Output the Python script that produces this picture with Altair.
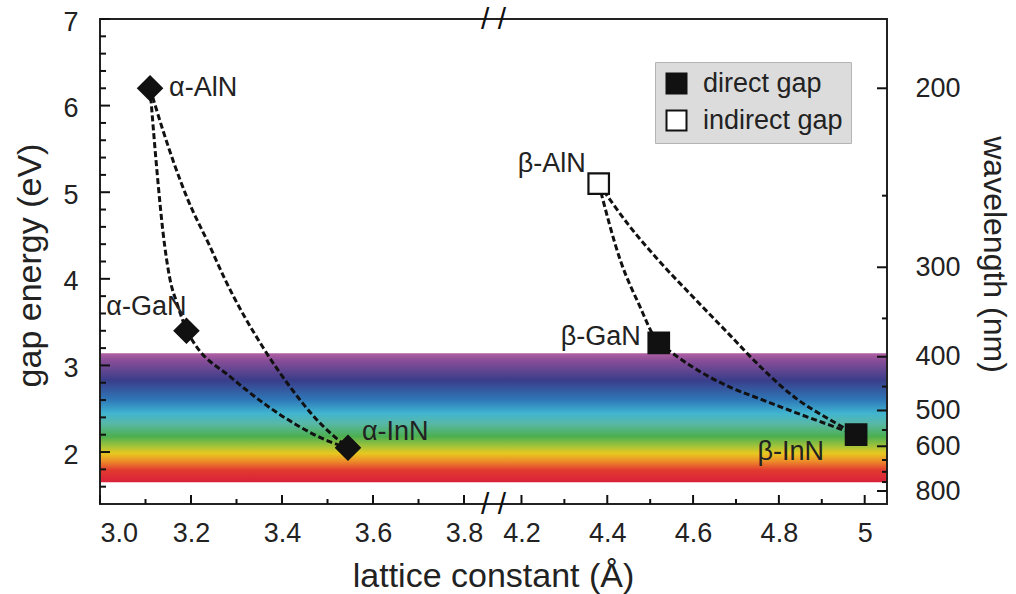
import altair as alt
import pandas as pd

# ------------------------------------------------------------------ data
COMPOUNDS = ["α-AlN", "α-GaN", "α-InN", "β-AlN", "β-GaN", "β-InN"]
PHASE = ["alpha", "alpha", "alpha", "beta", "beta", "beta"]
LATTICE = [3.11, 3.19, 3.545, 4.38, 4.52, 4.98]          # Å
GAP = [6.20, 3.40, 2.05, 5.10, 3.26, 2.20]               # eV
GAP_TYPE = ["direct gap", "direct gap", "direct gap",
            "indirect gap", "direct gap", "direct gap"]

# dashed alloy (bowing) curves
C_A_ALGA_X = [3.11, 3.127, 3.138, 3.154, 3.169, 3.19]
C_A_ALGA_E = [6.20, 5.14, 4.56, 3.99, 3.72, 3.40]
C_A_ALIN_X = [3.11, 3.138, 3.191, 3.242, 3.275, 3.358, 3.418, 3.477, 3.545]
C_A_ALIN_E = [6.20, 5.72, 4.94, 4.37, 3.99, 3.21, 2.75, 2.37, 2.05]
C_A_GAIN_X = [3.19, 3.213, 3.286, 3.358, 3.433, 3.505, 3.545]
C_A_GAIN_E = [3.40, 3.21, 2.87, 2.57, 2.31, 2.12, 2.05]
C_B_ALGA_X = [4.38, 4.43, 4.477, 4.505, 4.52]
C_B_ALGA_E = [5.10, 4.22, 3.67, 3.37, 3.26]
C_B_ALIN_X = [4.38, 4.45, 4.52, 4.60, 4.68, 4.76, 4.84, 4.92, 4.98]
C_B_ALIN_E = [5.10, 4.62, 4.21, 3.79, 3.38, 2.97, 2.62, 2.37, 2.20]
C_B_GAIN_X = [4.52, 4.609, 4.686, 4.763, 4.842, 4.919, 4.98]
C_B_GAIN_E = [3.26, 2.95, 2.75, 2.60, 2.45, 2.31, 2.20]

# visible-spectrum band (eV)
BAND_TOP = 3.14
BAND_BOTTOM = 1.65
SPEC_E = [3.14, 3.06, 2.83, 2.60, 2.45, 2.33, 2.18, 2.06, 1.985, 1.89, 1.79, 1.65]
SPEC_C = ["#b060a2", "#8a4e98", "#3a3d8a", "#2e78b8", "#40b4d0", "#58b8a8",
          "#4caf50", "#a8c438", "#e8c820", "#ec8a2a", "#e23a30", "#d8203a"]

# ticks
Y_MAJOR = [2, 3, 4, 5, 6, 7]
Y_MINOR = [1.6, 1.8, 2.2, 2.4, 2.6, 2.8, 3.2, 3.4, 3.6, 3.8, 4.2, 4.4, 4.6, 4.8,
           5.2, 5.4, 5.6, 5.8, 6.2, 6.4, 6.6, 6.8]
X_MAJOR = [3.0, 3.2, 3.4, 3.6, 3.8, 4.2, 4.4, 4.6, 4.8, 5.0]
X_MINOR = [3.1, 3.3, 3.5, 3.7, 4.3, 4.5, 4.7, 4.9]
WL_LABELED = [200, 300, 400, 500, 600, 800]              # nm
WL_MINOR = [250, 350, 450, 550, 650, 700, 750]
HC = 1240.0                                              # eV*nm

# ------------------------------------------------------------------ broken axis
X_LEFT, X_RIGHT_END = 3.0, 5.052
BREAK_L, BREAK_R = 3.865, 4.135
K = 429.0 / 455.0      # right segment is slightly compressed


def to_u(a):
    return a if a <= BREAK_L else BREAK_L + (a - BREAK_R) * K


W, H = 787, 485
FONT = "Liberation Sans"
INK = "#111111"
TXT = "#222222"

xscale = alt.Scale(domain=[X_LEFT, to_u(X_RIGHT_END)], nice=False, zero=False)
yscale = alt.Scale(domain=[1.4, 7.0], nice=False, zero=False)
yscale_r = alt.Scale(domain=[1.4, 7.0], nice=False, zero=False)

label_expr_x = (f"datum.value < {BREAK_L + 0.02} ? format(datum.value, '.1f') : "
                f"format({BREAK_R} + (datum.value - {BREAK_L}) / {K}, '.2~g')")

x_axis = alt.Axis(values=[to_u(v) for v in X_MAJOR], labelExpr=label_expr_x,
                  title="lattice constant (Å)", titleX=393, titleY=82,
                  titleBaseline="alphabetic", titleAlign="center", labelPadding=16)
y_axis = alt.Axis(values=Y_MAJOR, format="d", title="gap energy (eV)",
                  titleAngle=270, titleX=-60, titleY=246, titleAlign="center",
                  titleBaseline="alphabetic", labelPadding=22, labelOffset=3)
r_axis = alt.Axis(orient="right", values=[HC / w for w in WL_LABELED],
                  labelExpr=f"format(round({HC} / datum.value), 'd')",
                  title="wavelength (nm)", titleAngle=90, titleX=96, titleY=235,
                  titleAlign="center", titleBaseline="alphabetic", titleFontSize=32,
                  labelPadding=28)

X = alt.X("u:Q", scale=xscale, axis=x_axis)
Y = alt.Y("E:Q", scale=yscale, axis=y_axis)
RY = alt.Y("E:Q", scale=yscale_r, axis=r_axis)

# ------------------------------------------------------------------ frames
pts = pd.DataFrame({"name": COMPOUNDS, "phase": PHASE, "u": [to_u(a) for a in LATTICE],
                    "E": GAP, "gap": GAP_TYPE})

curves = []
for cid, xs, es in [("a1", C_A_ALGA_X, C_A_ALGA_E), ("a2", C_A_ALIN_X, C_A_ALIN_E),
                    ("a3", C_A_GAIN_X, C_A_GAIN_E), ("b1", C_B_ALGA_X, C_B_ALGA_E),
                    ("b2", C_B_ALIN_X, C_B_ALIN_E), ("b3", C_B_GAIN_X, C_B_GAIN_E)]:
    for xv, ev in zip(xs, es):
        curves.append({"curve": cid, "u": to_u(xv), "E": ev})
curves = pd.DataFrame(curves)

span = BAND_TOP - BAND_BOTTOM
gradient = alt.LinearGradient(
    gradient="linear",
    stops=[alt.GradientStop(offset=round((BAND_TOP - e) / span, 4), color=c)
           for e, c in zip(SPEC_E, SPEC_C)],
    x1=0, x2=0, y1=0, y2=1)

band = alt.Chart(pd.DataFrame({"E": [BAND_TOP], "E2": [BAND_BOTTOM]})).mark_rect(
    fill=gradient).encode(
    y=Y, y2=alt.Y2("E2:Q"), x=alt.value(1), x2=alt.value(W - 1))

lines = alt.Chart(curves).mark_line(
    color=INK, strokeWidth=3, strokeDash=[6, 3], interpolate="monotone").encode(
    x=X, y=Y, detail="curve:N")

ymaj = alt.Chart(pd.DataFrame({"E": Y_MAJOR})).mark_rule(color=INK, strokeWidth=2).encode(
    y=Y, x=alt.value(0), x2=alt.value(10))
ymin = alt.Chart(pd.DataFrame({"E": Y_MINOR})).mark_rule(color=INK, strokeWidth=2).encode(
    y=Y, x=alt.value(0), x2=alt.value(6))
xmaj = alt.Chart(pd.DataFrame({"u": [to_u(v) for v in X_MAJOR]})).mark_rule(
    color=INK, strokeWidth=2).encode(x=X, y=alt.value(H), y2=alt.value(H - 9))
xmin = alt.Chart(pd.DataFrame({"u": [to_u(v) for v in X_MINOR]})).mark_rule(
    color=INK, strokeWidth=2).encode(x=X, y=alt.value(H), y2=alt.value(H - 5))

brk_df = pd.DataFrame({"u": [BREAK_L]})
brk_top = alt.Chart(brk_df).mark_text(text="/ /", fontSize=30, color=INK, baseline="middle",
                                      align="center", dy=1).encode(x=X, y=alt.value(0))
brk_bot = alt.Chart(brk_df).mark_text(text="/ /", fontSize=30, color=INK, baseline="middle",
                                      align="center", dy=1).encode(x=X, y=alt.value(H))

legend = alt.Legend(title=None, orient="none", legendX=555, legendY=43,
                    symbolType="square", symbolSize=400, symbolStrokeColor=INK,
                    symbolStrokeWidth=2, symbolOpacity=1, labelFontSize=27,
                    labelColor=TXT, labelFont=FONT, fillColor="#dcdcdc",
                    strokeColor="#b4b4b4", padding=8, rowPadding=8, labelOffset=13)
FILL = alt.Fill("gap:N", scale=alt.Scale(domain=["direct gap", "indirect gap"],
                                         range=[INK, "#ffffff"]), legend=legend)

alpha_pts = alt.Chart(pts[pts.phase == "alpha"]).mark_point(
    shape="diamond", size=600, filled=True, stroke=INK, strokeWidth=1.5, opacity=1).encode(
    x=X, y=Y, fill=FILL)
beta_pts = alt.Chart(pts[pts.phase == "beta"]).mark_point(
    shape="square", size=420, filled=True, stroke=INK, strokeWidth=2.2, opacity=1).encode(
    x=X, y=Y, fill=FILL)

LABEL_STYLE = {
    "α-AlN": dict(align="left", dx=19, dy=0),
    "α-GaN": dict(align="right", dx=0, dy=-24),
    "α-InN": dict(align="left", dx=14, dy=-16),
    "β-AlN": dict(align="right", dx=-13, dy=-20),
    "β-GaN": dict(align="right", dx=-18, dy=-6),
    "β-InN": dict(align="right", dx=-32, dy=17),
}
labels = []
for nm in COMPOUNDS:
    st = LABEL_STYLE[nm]
    labels.append(alt.Chart(pts[pts.name == nm]).mark_text(
        fontSize=27, color=TXT, baseline="middle", font=FONT, **st).encode(
        x=X, y=Y, text="name:N"))

main = alt.layer(band, lines, ymin, ymaj, xmin, xmaj, alpha_pts, beta_pts, *labels,
                 brk_top, brk_bot)

r_long = alt.Chart(pd.DataFrame({"E": [HC / w for w in WL_LABELED]})).mark_rule(
    color=INK, strokeWidth=2).encode(y=RY, x=alt.value(W), x2=alt.value(W - 10))
r_short = alt.Chart(pd.DataFrame({"E": [HC / w for w in WL_MINOR]})).mark_rule(
    color=INK, strokeWidth=2).encode(y=RY, x=alt.value(W), x2=alt.value(W - 5))
right = alt.layer(r_long, r_short)

chart = alt.layer(main, right).resolve_scale(y="independent").properties(
    width=W, height=H,
    autosize=alt.AutoSizeParams(type="none"),
    padding={"left": 100, "top": 19, "right": 1016 - 100 - W, "bottom": 594 - 19 - H},
).configure(font=FONT, background="white").configure_view(
    stroke="#222222", strokeWidth=2
).configure_axis(
    grid=False, domain=False, ticks=False, tickSize=0, labelFontSize=27,
    labelColor=TXT, labelFont=FONT, titleFont=FONT, titleFontSize=34,
    titleColor=TXT, titleFontWeight="normal"
)

chart.save("out.html", embed_options={"renderer": "svg", "actions": False})
